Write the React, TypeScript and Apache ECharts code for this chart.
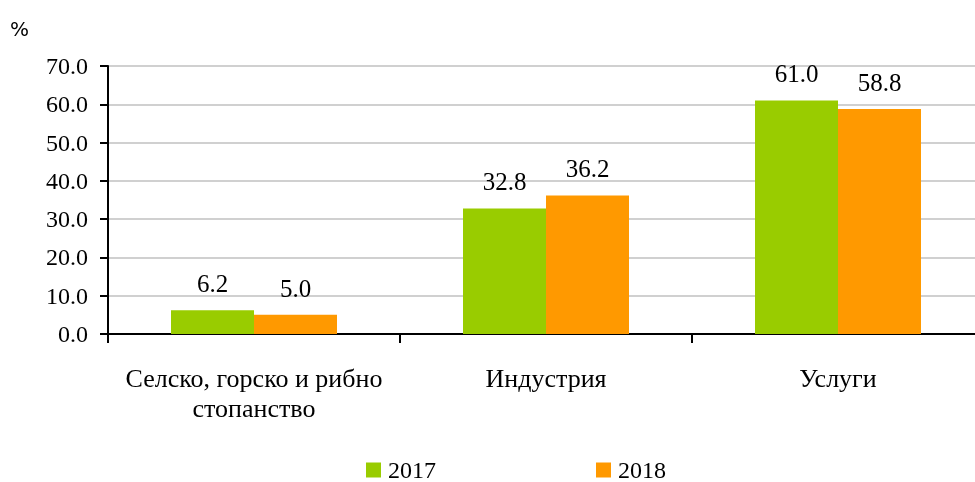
import React, { useEffect, useRef } from "react";
import * as echarts from "echarts";

const categories = ["Селско, горско и рибно\nстопанство", "Индустрия", "Услуги"];
const series2017 = [6.2, 32.8, 61.0];
const series2018 = [5.0, 36.2, 58.8];
const seriesNames = ["2017", "2018"];
const colors = ["#99CC00", "#FF9900"];

const FONT = "'Liberation Serif', 'Times New Roman', serif";

export default function App() {
  const ref = useRef<HTMLDivElement>(null);
  useEffect(() => {
    if (!ref.current) return;
    const chart = echarts.init(ref.current, null, { renderer: "svg" });
    const labelCfg = {
      show: true,
      position: "top",
      distance: 14,
      fontFamily: FONT,
      fontSize: 25,
      color: "#000",
      formatter: (p: any) => Number(p.value).toFixed(1),
    };
    chart.setOption({
      animation: false,
      grid: { left: 108, width: 876, top: 66, height: 268, containLabel: false, outerBoundsMode: "none" },
      graphic: [
        {
          type: "text",
          left: 10,
          top: 19,
          style: { text: "%", fontFamily: "'DejaVu Sans', sans-serif", fontSize: 20, fill: "#000" },
        },
      ],
      legend: {
        left: 366,
        top: 458,
        padding: 0,
        itemWidth: 15,
        itemHeight: 15,
        itemGap: 160,
        icon: "rect",
        textStyle: { fontFamily: FONT, fontSize: 24, lineHeight: 24, color: "#000", padding: [0, 0, 0, 2] },
        data: seriesNames,
      },
      xAxis: {
        type: "category",
        data: categories,
        axisLine: { lineStyle: { color: "#000", width: 2 } },
        axisTick: { show: true, length: 9, alignWithLabel: false, lineStyle: { color: "#000", width: 2 } },
        axisLabel: {
          fontFamily: FONT,
          fontSize: 26,
          color: "#000",
          margin: 29,
          lineHeight: 30,
          interval: 0,
        },
      },
      yAxis: {
        type: "value",
        min: 0,
        max: 70,
        interval: 10,
        axisLine: { show: true, lineStyle: { color: "#000", width: 2 } },
        axisTick: { show: true, length: 8, lineStyle: { color: "#000", width: 2 } },
        axisLabel: {
          fontFamily: FONT,
          fontSize: 24,
          color: "#000",
          margin: 20,
          formatter: (v: number) => v.toFixed(1),
        },
        splitLine: { lineStyle: { color: "#C0C0C0", width: 1.5 } },
      },
      series: [
        {
          name: seriesNames[0],
          type: "bar",
          data: series2017,
          barWidth: 83,
          barGap: "0%",
          itemStyle: { color: colors[0] },
          label: labelCfg,
        },
        {
          name: seriesNames[1],
          type: "bar",
          data: series2018,
          barWidth: 83,
          barGap: "0%",
          itemStyle: { color: colors[1] },
          label: labelCfg,
        },
      ],
    });
    return () => chart.dispose();
  }, []);
  return <div ref={ref} style={{ width: 975, height: 482, position: "fixed", left: 0, top: 0 }} />;
}
